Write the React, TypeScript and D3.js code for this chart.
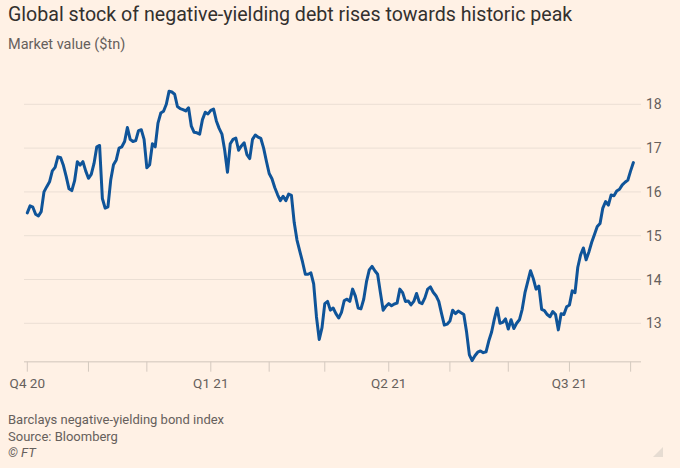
import { useMemo } from "react";
import * as d3 from "d3";

const WIDTH = 680;
const HEIGHT = 468;

// business days from 1 Oct 2020, Barclays negative-yielding index ($tn)
const START_DATE = new Date(2020, 9, 1);
const marketValue = [
  15.52, 15.68, 15.65, 15.49, 15.45, 15.55, 16.0, 16.12, 16.23, 16.48,
  16.56, 16.8, 16.78, 16.6, 16.35, 16.07, 16.03, 16.25, 16.69, 16.61,
  16.69, 16.48, 16.31, 16.4, 16.65, 17.03, 17.06, 15.85, 15.63, 15.66,
  16.27, 16.62, 16.73, 17.0, 17.03, 17.15, 17.47, 17.2, 17.15, 17.17,
  17.4, 17.42, 17.2, 16.55, 16.62, 17.1, 17.03, 17.57, 17.8, 17.84,
  18.0, 18.3, 18.28, 18.23, 17.95, 17.9, 17.88, 17.85, 17.92, 17.5,
  17.36, 17.35, 17.32, 17.65, 17.82, 17.78, 17.86, 17.89, 17.62, 17.45,
  17.32, 16.95, 16.45, 17.1, 17.2, 17.23, 16.95, 17.05, 17.12, 16.85,
  16.76, 17.2, 17.3, 17.25, 17.22, 17.0, 16.7, 16.42, 16.3, 16.1,
  15.94, 15.8, 15.9, 15.8, 15.95, 15.92, 15.3, 14.9, 14.65, 14.4,
  14.12, 14.12, 14.15, 13.9, 13.15, 12.63, 12.9, 13.45, 13.5, 13.3,
  13.35, 13.22, 13.12, 13.25, 13.52, 13.55, 13.5, 13.78, 13.62, 13.35,
  13.33, 13.55, 13.95, 14.22, 14.3, 14.2, 14.12, 13.7, 13.3, 13.39,
  13.45, 13.4, 13.44, 13.46, 13.78, 13.7, 13.5, 13.51, 13.42, 13.5,
  13.68, 13.48, 13.45, 13.58, 13.78, 13.83, 13.71, 13.63, 13.5, 13.22,
  12.96, 12.98, 13.05, 13.3, 13.22, 13.28, 13.24, 13.2, 12.8, 12.28,
  12.15, 12.26, 12.34, 12.37, 12.33, 12.35, 12.6, 12.8, 13.1, 13.35,
  13.0, 13.02, 13.1, 12.87, 13.08, 12.88, 13.0, 13.08, 13.32, 13.7,
  13.95, 14.2, 14.02, 13.78, 13.85, 13.32, 13.29, 13.2, 13.15, 13.27,
  13.2, 12.85, 13.22, 13.2, 13.38, 13.42, 13.74, 13.7, 14.28, 14.56,
  14.72, 14.45, 14.63, 14.85, 15.03, 15.21, 15.28, 15.63, 15.78, 15.7,
  15.93, 15.91, 16.02, 16.06, 16.16, 16.22, 16.27, 16.48, 16.67,
];

const yTicks = [13, 14, 15, 16, 17, 18];
const quarterLabels: Record<number, string> = {
  9: "Q4 20",
  0: "Q1 21",
  3: "Q2 21",
  6: "Q3 21",
};

const PLOT = { left: 24, right: 641, top: 90, bottom: 361.7 };

const INK = "#33302e";
const GREY = "#66605c";
const LINE_BLUE = "#0f5499";

export default function App() {
  // weekdays only, one per value
  const dates = useMemo(() => {
    const all = d3.timeDay.range(START_DATE, new Date(2021, 11, 31));
    return all.filter((d) => d.getDay() !== 0 && d.getDay() !== 6).slice(0, marketValue.length);
  }, []);

  const xScale = d3
    .scaleLinear()
    .domain([0, marketValue.length - 1])
    .range([27.3, 633.4]);

  const yScale = d3.scaleLinear().domain([13, 18]).range([323.3, 104.3]);

  // first trading day of each month -> tick
  const monthTicks = d3.timeMonth
    .range(START_DATE, d3.timeDay.offset(dates[dates.length - 1], 1))
    .map((m) => ({ month: m, idx: dates.findIndex((d) => d >= m) }))
    .filter((t) => t.idx >= 0);

  const linePath = d3
    .line<number>()
    .x((_, i) => xScale(i))
    .y((d) => yScale(d))(marketValue);

  const font = "Roboto, 'Noto Sans', sans-serif";

  return (
    <svg
      width={WIDTH}
      height={HEIGHT}
      style={{ position: "absolute", left: 0, top: 0, display: "block" }}
      fontFamily={font}
    >
      <rect width={WIDTH} height={HEIGHT} fill="#fff1e5" />

      <text x={8} y={21} fontSize={19.6} fill={INK}>
        Global stock of negative-yielding debt rises towards historic peak
      </text>
      <text x={8} y={49} fontSize={14.5} fill={GREY}>
        Market value ($tn)
      </text>

      {/* gridlines + right labels */}
      {yTicks.map((t) => (
        <g key={t}>
          <line
            x1={PLOT.left}
            x2={PLOT.right}
            y1={yScale(t)}
            y2={yScale(t)}
            stroke="#ebdfd4"
            strokeWidth={1}
          />
          <text
            x={646}
            y={yScale(t)}
            dy="0.36em"
            fontSize={14}
            fill={GREY}
          >
            {t}
          </text>
        </g>
      ))}

      {/* x axis */}
      <line
        x1={PLOT.left}
        x2={PLOT.right}
        y1={PLOT.bottom}
        y2={PLOT.bottom}
        stroke="#e0d4c9"
        strokeWidth={1.5}
      />
      {monthTicks.map((t) => (
        <g key={t.idx}>
          <line
            x1={xScale(t.idx)}
            x2={xScale(t.idx)}
            y1={PLOT.bottom}
            y2={PLOT.bottom + 10}
            stroke="#d4c9bf"
            strokeWidth={1}
          />
          {quarterLabels[t.month.getMonth()] && (
            <text
              x={xScale(t.idx)}
              y={388}
              fontSize={13.5}
              fill={GREY}
              textAnchor="middle"
            >
              {quarterLabels[t.month.getMonth()]}
            </text>
          )}
        </g>
      ))}

      <path
        d={linePath ?? ""}
        fill="none"
        stroke={LINE_BLUE}
        strokeWidth={3}
        strokeLinejoin="round"
        strokeLinecap="round"
      />

      <text x={8} y={424} fontSize={13} fill={GREY}>
        Barclays negative-yielding bond index
      </text>
      <text x={8} y={440.5} fontSize={13} fill={GREY}>
        Source: Bloomberg
      </text>
      <text x={8} y={457} fontSize={13} fill={GREY} fontStyle="italic">
        © FT
      </text>

      <path d="M 663 447 L 663 457 L 653 457 Z" fill="#e6dcd2" />
    </svg>
  );
}
